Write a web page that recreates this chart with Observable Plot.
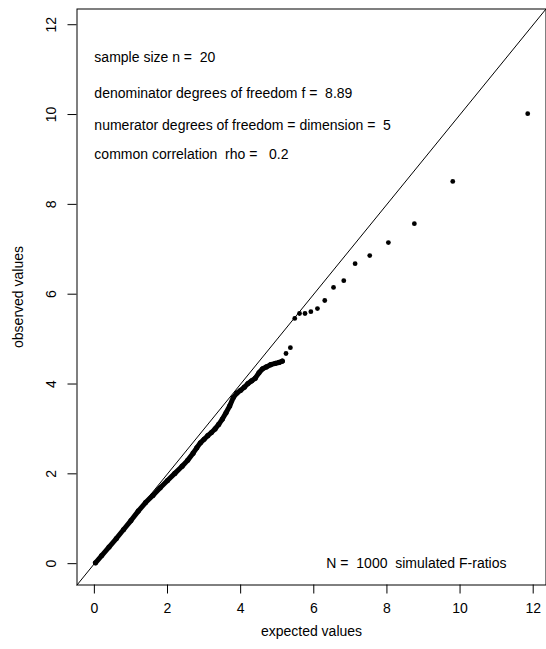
<!DOCTYPE html>
<html><head><meta charset="utf-8">
<script src="https://cdn.jsdelivr.net/npm/d3@7"></script>
<script src="https://cdn.jsdelivr.net/npm/@observablehq/plot@0.6"></script>
<style>
body{margin:0;background:#fff}
svg{display:block}
svg text{white-space:pre}
</style>
</head><body><div id="chart"></div>
<script>
const axisLimits = [-0.475, 12.35];
const xTicks = [0, 2, 4, 6, 8, 10, 12];
const yTicks = [0, 2, 4, 6, 8, 10, 12];

// dense part of the Q-Q cloud (points overlap into a thick band)
const denseExpected = [0.03,0.2,0.4,0.6,0.8,1.0,1.2,1.4,1.6,1.8,2.0,2.2,2.4,2.55,2.7,2.8,2.9,3.0,3.1,3.2,3.3,3.4,3.5,3.6,3.7,3.8,3.9,4.0,4.1,4.2,4.3,4.4,4.5,4.6,4.7,4.82,4.95,5.05,5.14];
const denseObserved = [0.02,0.18,0.37,0.56,0.76,0.96,1.17,1.36,1.52,1.69,1.85,2.01,2.17,2.30,2.46,2.58,2.69,2.77,2.85,2.92,3.00,3.10,3.22,3.36,3.51,3.70,3.80,3.86,3.93,4.01,4.07,4.13,4.25,4.34,4.38,4.43,4.46,4.48,4.51];

// separate upper-tail points
const tailExpected = [5.24,5.36,5.48,5.61,5.76,5.92,6.10,6.30,6.54,6.82,7.13,7.53,8.04,8.75,9.80,11.85];
const tailObserved = [4.68,4.81,5.46,5.57,5.57,5.61,5.68,5.86,6.15,6.30,6.68,6.86,7.15,7.57,8.51,10.02];

const notes = ["sample size n =  20", "denominator degrees of freedom f =  8.89", "numerator degrees of freedom = dimension =  5", "common correlation  rho =   0.2"];
const noteY = [11.27, 10.46, 9.76, 9.12];
const noteX = 0;
const footnote = "N =  1000  simulated F-ratios";
const footX = 11.27, footY = 0;
const xLabel = "expected values";
const yLabel = "observed values";

const dense = denseExpected.map((e, i) => ({e, o: denseObserved[i]}));
const tail = tailExpected.map((e, i) => ({e, o: tailObserved[i]}));
const diag = axisLimits.map(v => ({e: v, o: v}));
const noteRows = notes.map((t, i) => ({t, x: noteX, y: noteY[i]}));

const font = "Liberation Sans, Arial, Helvetica, sans-serif";

const chart = Plot.plot({
  width: 546,
  height: 649,
  marginLeft: 76.5,
  marginRight: 0.5,
  marginTop: 8.5,
  marginBottom: 64.5,
  style: {fontFamily: font, fontSize: "14px", background: "#fff", color: "#000"},
  x: {domain: axisLimits, axis: null},
  y: {domain: axisLimits, axis: null},
  marks: [
    Plot.axisX(xTicks, {tickSize: 9, tickPadding: 9, fontSize: 14, label: null, stroke: "#000", strokeWidth: 1}),
    Plot.axisY(yTicks, {tickSize: 9, tickFormat: () => "", label: null, stroke: "#000", strokeWidth: 1}),
    Plot.text(yTicks, {y: d => d, text: d => String(d), frameAnchor: "left", dx: -25, rotate: -90, textAnchor: "middle", lineAnchor: "middle", fontSize: 14, fill: "#000"}),
    Plot.line(diag, {x: "e", y: "o", stroke: "#000", strokeWidth: 1}),
    Plot.line(dense, {x: "e", y: "o", stroke: "#000", strokeWidth: 5, strokeLinecap: "round", strokeLinejoin: "round"}),
    Plot.dot(dense, {x: "e", y: "o", r: 2.6, fill: "#000", stroke: "none"}),
    Plot.dot(tail, {x: "e", y: "o", r: 2.4, fill: "#000", stroke: "none"}),
    Plot.text(noteRows, {x: "x", y: "y", text: "t", textAnchor: "start", lineAnchor: "middle", fontSize: 14, fill: "#000"}),
    Plot.text([footnote], {x: footX, y: footY, text: d => d, textAnchor: "end", lineAnchor: "middle", fontSize: 14, fill: "#000"}),
    Plot.text([xLabel], {frameAnchor: "bottom", dy: 47, text: d => d, textAnchor: "middle", lineAnchor: "middle", fontSize: 14, fill: "#000"}),
    Plot.text([yLabel], {frameAnchor: "left", dx: -58, rotate: -90, text: d => d, textAnchor: "middle", lineAnchor: "middle", fontSize: 14, fill: "#000"}),
    Plot.frame({stroke: "#000", strokeWidth: 1})
  ]
});
document.getElementById("chart").appendChild(chart);
</script>
</body></html>
